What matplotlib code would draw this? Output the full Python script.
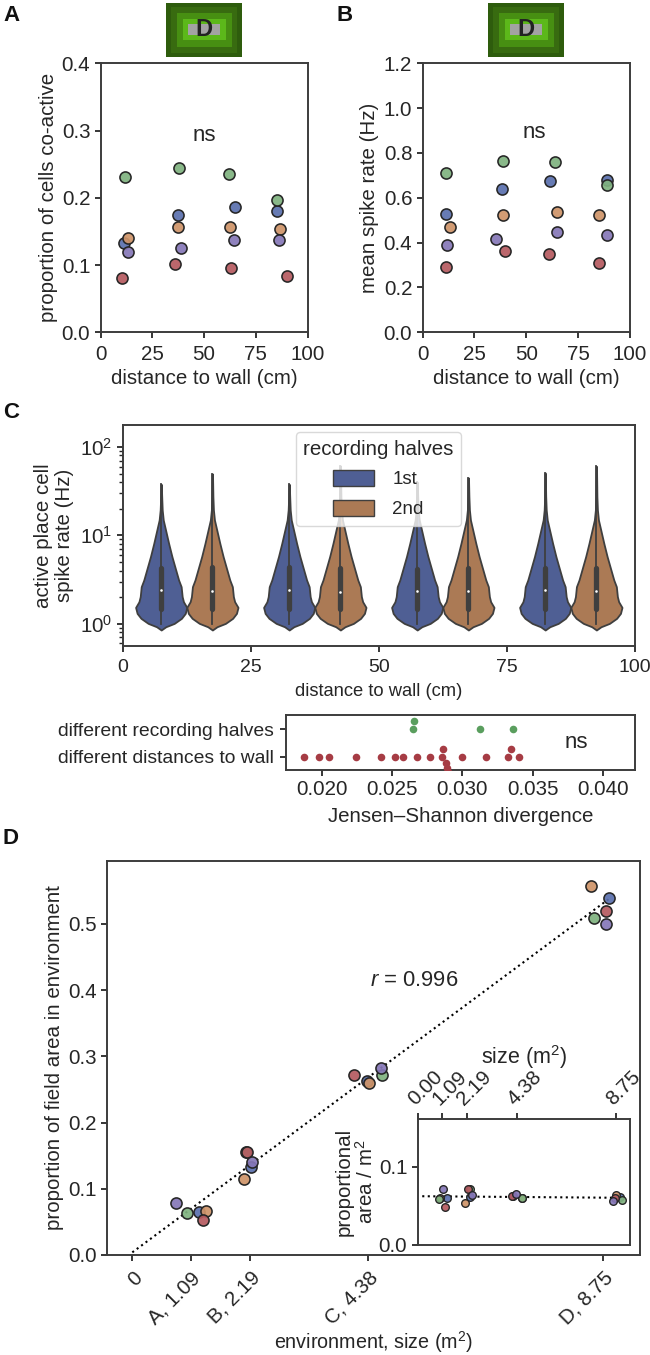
import matplotlib
matplotlib.use('Agg')
import matplotlib.pyplot as plt
from matplotlib.patches import Patch, Rectangle
import numpy as np

W, H = 650, 1355
plt.rcParams.update({
    'font.family': ['Liberation Sans', 'DejaVu Sans'],
    'font.size': 14.8,
    'text.color': '#262626',
    'axes.labelcolor': '#262626',
    'axes.edgecolor': '#3c3c3c',
    'axes.linewidth': 1.4,
    'xtick.color': '#262626',
    'ytick.color': '#262626',
    'xtick.major.size': 4.5,
    'ytick.major.size': 4.5,
    'xtick.major.width': 1.3,
    'ytick.major.width': 1.3,
    'xtick.major.pad': 5,
    'ytick.major.pad': 3,
    'ytick.minor.size': 3,
    'ytick.minor.width': 1.0,
    'mathtext.fontset': 'custom',
    'mathtext.rm': 'Liberation Sans',
    'mathtext.it': 'Liberation Sans:italic',
    'mathtext.bf': 'Liberation Sans:bold',
    'mathtext.default': 'regular',
})

# ---- data ----
series_names = ['blue', 'orange', 'green', 'red', 'purple']
series_colors = {'blue': '#5a70ae', 'orange': '#cf9468', 'green': '#7fb27f',
                 'red': '#b55a60', 'purple': '#8677b8'}

a_x = {'blue': [11.3, 37.3, 65.0, 85.3], 'orange': [13.2, 37.3, 62.3, 86.8],
       'green': [11.6, 37.9, 61.8, 85.3], 'red': [10.2, 35.8, 63.0, 90.3],
       'purple': [13.4, 38.9, 64.5, 86.0]}
a_y = {'blue': [0.133, 0.1745, 0.187, 0.180], 'orange': [0.140, 0.157, 0.157, 0.153],
       'green': [0.2305, 0.245, 0.235, 0.196], 'red': [0.080, 0.101, 0.096, 0.084],
       'purple': [0.119, 0.125, 0.137, 0.137]}
b_x = {'blue': [11.3, 38.3, 61.5, 88.9], 'orange': [13.2, 38.6, 64.7, 85.3],
       'green': [11.1, 38.8, 63.9, 88.9], 'red': [11.1, 39.9, 61.2, 85.3],
       'purple': [11.6, 35.4, 64.9, 89.2]}
b_y = {'blue': [0.529, 0.639, 0.674, 0.678], 'orange': [0.468, 0.525, 0.535, 0.523],
       'green': [0.709, 0.763, 0.761, 0.656], 'red': [0.290, 0.361, 0.351, 0.308],
       'purple': [0.391, 0.418, 0.446, 0.434]}

violin_pos = [7.5, 17.5, 32.5, 42.5, 57.5, 67.5, 82.5, 92.5]
violin_top = [37.8, 49.5, 37.8, 61.0, 40.0, 44.6, 50.8, 60.4]
violin_med = [2.39, 2.33, 2.40, 2.30, 2.33, 2.33, 2.40, 2.33]
violin_q1 = [1.46, 1.46, 1.46, 1.46, 1.46, 1.46, 1.46, 1.46]
violin_q3 = [4.3, 4.35, 4.35, 4.25, 4.15, 4.3, 4.3, 4.25]
violin_low = [1.0] * 8
profile_log = [-0.071, -0.034, 0.004, 0.061, 0.117, 0.185, 0.249, 0.306, 0.362, 0.419,
               0.495, 0.627, 0.759, 0.91, 1.061, 1.174, 1.287, 1.438]
profile_w = [0.0, 0.18, 0.51, 0.79, 0.94, 1.0, 0.87, 0.82, 0.80, 0.78,
             0.68, 0.55, 0.42, 0.29, 0.17, 0.08, 0.04, 0.02]

js_red_x = [0.01876, 0.01982, 0.02053, 0.02245, 0.02422, 0.02522, 0.02575, 0.02678,
            0.02773, 0.02858, 0.02994, 0.03165, 0.03327, 0.03401, 0.02864, 0.03345,
            0.02885, 0.02891, 0.02895]
js_red_y = [1, 1, 1, 1, 1, 1, 1, 1, 1, 1, 1, 1, 1, 1, 0.72, 0.72, 1.22, 1.42, 1.55]
js_green_x = [0.02655, 0.02649, 0.03124, 0.03357]
js_green_y = [-0.29, 0, 0, 0]
js_labels = ['different recording halves', 'different distances to wall']
js_ticks = [0.020, 0.025, 0.030, 0.035, 0.040]

d_x = {'blue': [1.233, 2.20, 4.36, 8.87], 'orange': [1.363, 2.082, 4.41, 8.53],
       'green': [1.01, 2.12, 4.652, 8.59], 'red': [1.32, 2.13, 4.115, 8.80],
       'purple': [0.812, 2.218, 4.615, 8.80]}
d_y = {'blue': [0.0655, 0.1334, 0.2623, 0.5393], 'orange': [0.0665, 0.1153, 0.2603, 0.5579],
       'green': [0.064, 0.1556, 0.2724, 0.5086], 'red': [0.053, 0.1556, 0.2724, 0.5196],
       'purple': [0.078, 0.140, 0.2825, 0.4995]}
d_fit_x = [0.0, 8.9]
d_fit_y = [0.004, 0.540]
d_ticks = [0, 1.09, 2.19, 4.38, 8.75]
d_ticklabels = ['0', 'A, 1.09', 'B, 2.19', 'C, 4.38', 'D, 8.75']

i_x = {'blue': [1.294, 2.29, 4.22, 8.94], 'orange': [0.985, 2.10, 4.62, 8.76],
       'green': [0.94, 2.29, 4.59, 9.00], 'red': [1.19, 2.22, 4.147, 8.71],
       'purple': [1.118, 2.40, 4.35, 8.63]}
i_y = {'blue': [0.0607, 0.0615, 0.0624, 0.0615], 'orange': [0.0598, 0.0534, 0.0598, 0.0637],
       'green': [0.0594, 0.0714, 0.0607, 0.0581], 'red': [0.0487, 0.0714, 0.0624, 0.0603],
       'purple': [0.0714, 0.0645, 0.065, 0.0568]}
i_fit_x = [0.2, 9.0]
i_fit_y = [0.0625, 0.0605]
i_ticks = [0.00, 1.09, 2.19, 4.38, 8.75]

# ---- helpers ----
fig = plt.figure(figsize=(W / 100, H / 100), dpi=100)

def make_ax(l, t, r, b, **kw):
    return fig.add_axes([l / W, 1 - b / H, (r - l) / W, (b - t) / H], **kw)

def dots(ax, xs, ys, s=64, lw=1.15):
    for n in series_names:
        c = matplotlib.colors.to_rgba(series_colors[n], 0.92)
        ax.scatter(xs[n], ys[n], s=s, facecolor=c, edgecolor='#262626', linewidth=lw,
                   zorder=3, clip_on=False)

def icon(l, t):
    iax = make_ax(l, t, l + 76, t + 54)
    iax.set_xlim(0, 76)
    iax.set_ylim(54, 0)
    iax.axis('off')
    layers = [(0, 0, 76, 54, '#2e5c0d'), (5, 4, 66, 46, '#386b10'),
              (11, 10, 55, 34, '#478f12'), (17, 16, 43, 21, '#5cb81a'),
              (22, 21, 32, 11, '#a3a3a3')]
    for x, y, w, h, c in layers:
        iax.add_patch(Rectangle((x, y), w, h, facecolor=c, edgecolor='none'))
    iax.text(38, 26.5, 'D', ha='center', va='center', fontsize=17, fontweight='bold',
             color='#222222')

# ---- A ----
axA = make_ax(100.7, 63.3, 307.5, 332.3)
dots(axA, a_x, a_y)
axA.set_xlim(0, 100)
axA.set_ylim(0, 0.4)
axA.set_xticks([0, 25, 50, 75, 100])
axA.set_yticks([0, 0.1, 0.2, 0.3, 0.4])
axA.set_xlabel('distance to wall (cm)', labelpad=3.3)
axA.set_ylabel('proportion of cells co-active', labelpad=2.3)
axA.text(50, 0.293, 'ns', ha='center', va='center', fontsize=16)
icon(166, 3)

# ---- B ----
axB = make_ax(422.7, 63.3, 629.7, 332.3)
dots(axB, b_x, b_y)
axB.set_xlim(0, 100)
axB.set_ylim(0, 1.2)
axB.set_xticks([0, 25, 50, 75, 100])
axB.set_yticks([0, 0.2, 0.4, 0.6, 0.8, 1.0, 1.2])
axB.set_xlabel('distance to wall (cm)', labelpad=3.3)
axB.set_ylabel('mean spike rate (Hz)', labelpad=3)
axB.text(53.8, 0.89, 'ns', ha='center', va='center', fontsize=16)
icon(488, 3)

# ---- C ----
axC = make_ax(122.8, 425, 634.8, 646)
violin_cols = ['#4f5f94', '#ab7a55']
for i, p in enumerate(violin_pos):
    ys = 10 ** np.array(profile_log + [np.log10(violin_top[i])])
    ws = 5 * np.array(profile_w + [0.004])
    axC.fill_betweenx(ys, p - ws, p + ws, facecolor=violin_cols[i % 2],
                      edgecolor='#3f3f3f', linewidth=1.3, zorder=2)
    axC.plot([p, p], [violin_low[i], violin_top[i]], color='#3f3f3f', lw=1.3, zorder=3)
    axC.plot([p, p], [violin_q1[i], violin_q3[i]], color='#3f3f3f', lw=3.8, zorder=3,
             solid_capstyle='round')
    axC.scatter([p], [violin_med[i]], s=3.5, color='white', zorder=4, linewidth=0)
axC.set_yscale('log')
axC.set_xlim(0, 100)
axC.set_ylim(0.56, 177)
axC.set_xticks([0, 25, 50, 75, 100])
axC.tick_params(axis='x', labelsize=14)
axC.set_xlabel('distance to wall (cm)', labelpad=4.7, fontsize=13.2)
axC.set_ylabel('active place cell\nspike rate (Hz)', labelpad=4.5, linespacing=1.1)
leg = axC.legend(handles=[Patch(facecolor=violin_cols[0], edgecolor='#3f3f3f', label='1st'),
                          Patch(facecolor=violin_cols[1], edgecolor='#3f3f3f', label='2nd')],
                 title='recording halves', loc='center',
                 bbox_to_anchor=((378.5 - 122.8) / 512, (646 - 479) / 221),
                 framealpha=0.8, handlelength=2.15, handleheight=0.95, fontsize=13.5,
                 title_fontsize=14.8, labelspacing=0.6, borderpad=0.4, handletextpad=1.0)
leg.set_zorder(10)
leg.get_frame().set_edgecolor('#d0d0d0')

# ---- JS divergence ----
axJ = make_ax(286, 714.7, 635, 770)
axJ.scatter(js_red_x, js_red_y, s=30, color='#a63c44', linewidth=0, zorder=3)
axJ.scatter(js_green_x, js_green_y, s=30, color='#5a9e5e', linewidth=0, zorder=3)
axJ.set_xlim(0.01746, 0.04227)
axJ.set_ylim(1.49, -0.537)
axJ.set_yticks([0, 1])
axJ.set_yticklabels(js_labels, fontsize=13.9)
axJ.tick_params(axis='y', pad=4.5)
axJ.tick_params(axis='x', pad=3)
axJ.set_xticks(js_ticks)
axJ.set_xticklabels([f'{v:.3f}' for v in js_ticks])
axJ.set_xlabel('Jensen\u2013Shannon divergence', labelpad=5.3)
axJ.text(0.0381, 0.476, 'ns', ha='center', va='center', fontsize=16)

# ---- D ----
axD = make_ax(107.3, 861, 640, 1255)
axD.plot(d_fit_x, d_fit_y, color='black', ls=':', lw=1.5, zorder=2)
dots(axD, d_x, d_y)
axD.set_xlim(-0.465, 9.44)
axD.set_ylim(0, 0.595)
axD.set_xticks(d_ticks)
axD.set_xticklabels(d_ticklabels, rotation=45, ha='right', rotation_mode='anchor')
axD.set_yticks([0, 0.1, 0.2, 0.3, 0.4, 0.5])
axD.set_xlabel('environment, size (m$^2$)', labelpad=0.7, fontsize=14.2)
axD.set_ylabel('proportion of field area in environment', labelpad=3)
axD.text(4.42, 0.414, '$\\mathit{r}$ = 0.996', ha='left', va='center', fontsize=15.8)

# ---- inset ----
axI = make_ax(417.7, 1119, 630, 1245)
axI.plot(i_fit_x, i_fit_y, color='black', ls=':', lw=1.5, zorder=2)
dots(axI, i_x, i_y, s=30, lw=1.0)
axI.set_xlim(0, 9.37)
axI.set_ylim(0, 0.1615)
axI.xaxis.tick_top()
axI.xaxis.set_label_position('top')
axI.tick_params(axis='x', pad=3)
axI.set_xticks(i_ticks)
axI.set_xticklabels([f'{v:.2f}' for v in i_ticks], rotation=45, ha='left',
                    rotation_mode='anchor')
axI.set_yticks([0, 0.1])
axI.set_xlabel('size (m$^2$)', labelpad=2, fontsize=15.5)
axI.set_ylabel('proportional\narea / m$^2$', labelpad=1, linespacing=1.1)

# ---- panel letters ----
for s, x, y in [('A', 3, 21), ('B', 337, 21), ('C', 3, 418), ('D', 3, 844)]:
    fig.text(x / W, 1 - y / H, s, fontsize=16, fontweight='bold', color='#111111',
             ha='left', va='baseline')

fig.savefig('out.png', dpi=100, facecolor='white')
